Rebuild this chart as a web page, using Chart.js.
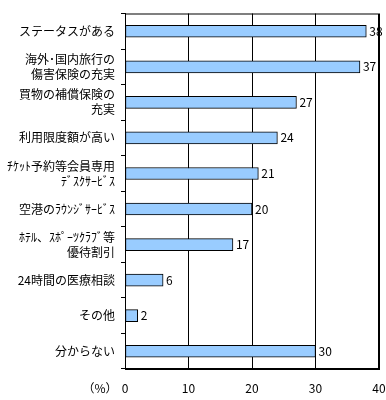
<!DOCTYPE html>
<html>
<head>
<meta charset="utf-8">
<script src="https://cdn.jsdelivr.net/npm/chart.js@4"></script>
<style>
  html, body { margin: 0; padding: 0; background: #fff; }
  #wrap { width: 386px; height: 400px; }
</style>
</head>
<body>
<div id="wrap"><canvas id="chart"></canvas></div>
<script>
const categories = [
  'ステータスがある',
  ['海外･国内旅行の', '傷害保険の充実'],
  ['買物の補償保険の', '充実'],
  '利用限度額が高い',
  ['ﾁｹｯﾄ予約等会員専用', 'ﾃﾞｽｸｻｰﾋﾞｽ'],
  '空港のﾗｳﾝｼﾞｻｰﾋﾞｽ',
  ['ﾎﾃﾙ、ｽﾎﾟｰﾂｸﾗﾌﾞ等', '優待割引'],
  '24時間の医療相談',
  'その他',
  '分からない'
]
const values = [38, 37, 27, 24, 21, 20, 17, 6, 2, 30]
const xTicks = [0, 10, 20, 30, 40]
const unitLabel = '（%）'

const FONT = "'Noto Sans CJK JP', 'Noto Sans', sans-serif"

// frame around the plot area, value labels and the unit label
const extras = {
  id: 'extras',
  afterDatasetsDraw(chart) {
    const { ctx, chartArea } = chart
    ctx.save()
    ctx.strokeStyle = '#000'
    ctx.lineWidth = 1
    ctx.strokeRect(chartArea.left + 0.5, chartArea.top + 0.5,
      chartArea.right - chartArea.left - 1, chartArea.bottom - chartArea.top - 1)

    ctx.fillStyle = '#000'
    ctx.font = '12px ' + FONT
    ctx.textBaseline = 'middle'
    ctx.textAlign = 'left'
    chart.getDatasetMeta(0).data.forEach((bar, i) => {
      ctx.fillText(String(values[i]), bar.x + 3, bar.y)
    })

    ctx.textAlign = 'center'
    ctx.fillText(unitLabel, 100, chart.scales.x.bottom - 12)
    ctx.restore()
  }
}

new Chart(document.getElementById('chart'), {
  type: 'bar',
  data: {
    labels: categories,
    datasets: [{
      data: values,
      backgroundColor: '#99ccff',
      borderColor: '#000',
      borderWidth: 1,
      barThickness: 12,
      borderSkipped: false
    }]
  },
  options: {
    indexAxis: 'y',
    responsive: true,
    maintainAspectRatio: false,
    animation: false,
    layout: { padding: { top: 13, right: 0, left: 0, bottom: 0 } },
    plugins: {
      legend: { display: false },
      tooltip: { enabled: false }
    },
    scales: {
      x: {
        min: 0,
        max: 40,
        afterBuildTicks: (scale) => { scale.ticks = xTicks.map((v) => ({ value: v })) },
        afterFit: (scale) => { scale.height = 31; scale.paddingRight = 7 },
        grid: { color: '#000', drawTicks: false, lineWidth: 1 },
        border: { color: '#000' },
        ticks: { color: '#000', padding: 12, font: { family: FONT, size: 12 } }
      },
      y: {
        afterFit: (scale) => { scale.width = 125 },
        grid: { offset: true, drawOnChartArea: false, color: '#000', tickLength: 4 },
        border: { color: '#000' },
        ticks: { color: '#000', padding: 6, font: { family: FONT, size: 12, lineHeight: 1.25 } }
      }
    }
  },
  plugins: [extras]
})
</script>
</body>
</html>
